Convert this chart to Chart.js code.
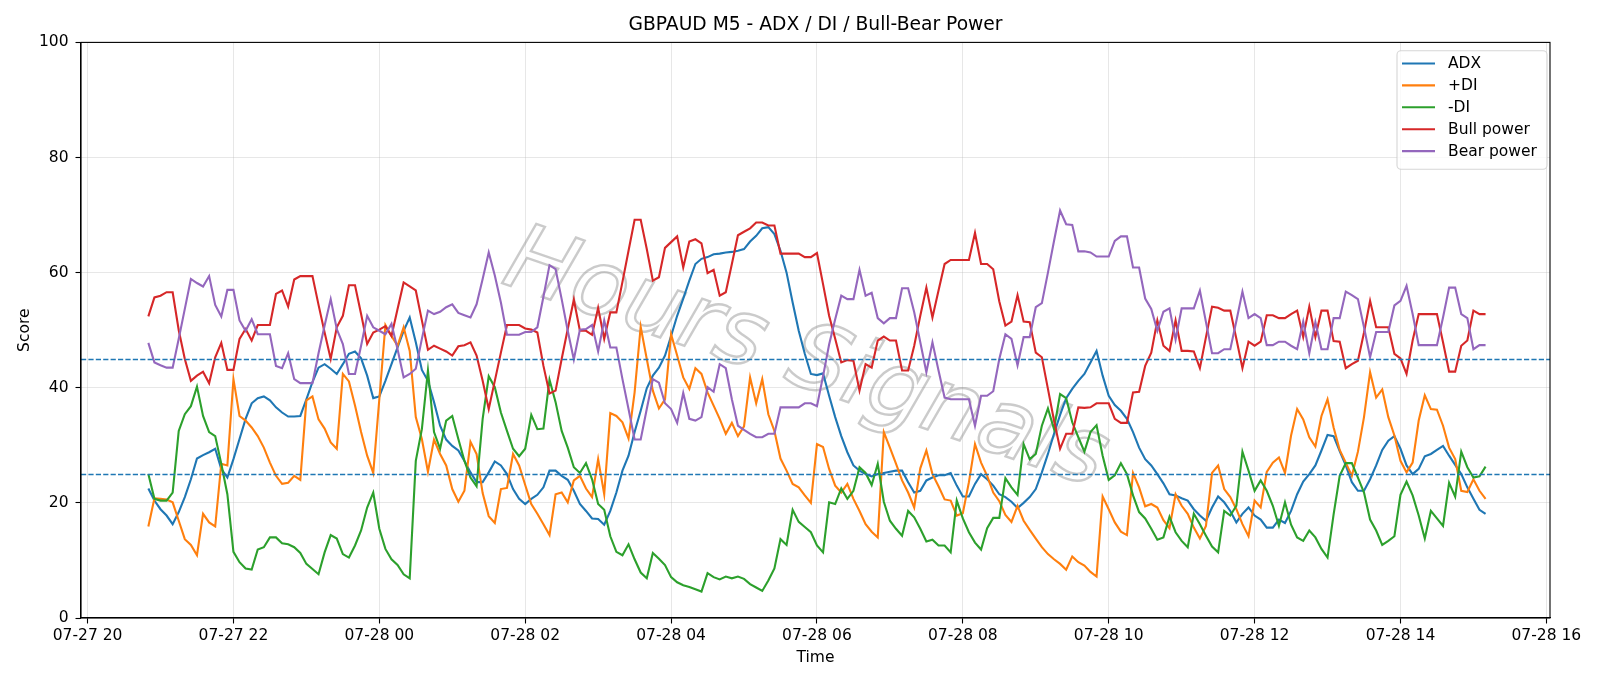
<!DOCTYPE html>
<html>
<head>
<meta charset="utf-8">
<script src="https://cdn.jsdelivr.net/npm/chart.js@4.4.1/dist/chart.umd.min.js"></script>
<style>
  html, body { margin: 0; padding: 0; background: #fff; }
  #wrap { width: 1600px; height: 686px; }
</style>
</head>
<body>
<div id="wrap"><canvas id="chart" width="1600" height="686"></canvas></div>
<script>
'use strict';

// === Datos (M5, 07-27 20:50 -> 07-28 15:10) ===
const START_H = 50 / 60;   // horas desde 07-27 20:00
const STEP_H  = 5 / 60;

const adx = [
  22.5,20.4,18.9,17.8,16.3,18.4,21.0,24.1,27.7,28.3,
  28.8,29.4,25.9,24.4,27.6,31.1,34.6,37.3,38.2,38.5,
  37.8,36.6,35.7,35.0,35.0,35.1,38.0,41.0,43.5,44.1,
  43.3,42.4,44.1,45.9,46.3,45.1,42.1,38.2,38.5,41.2,
  44.1,47.0,49.9,52.2,47.9,43.1,41.2,37.5,33.4,31.0,
  29.9,29.1,27.3,25.3,23.6,23.6,25.3,27.2,26.5,25.0,
  22.4,20.7,19.8,20.7,21.4,22.7,25.6,25.6,24.7,24.0,
  22.1,19.8,18.6,17.3,17.2,16.2,18.6,21.8,25.6,28.2,
  32.3,36.0,39.9,42.1,43.5,45.6,49.0,52.5,55.5,58.6,
  61.5,62.4,62.7,63.2,63.3,63.5,63.6,63.8,64.1,65.4,
  66.4,67.7,67.9,66.7,63.8,60.0,54.8,49.9,45.9,42.4,
  42.2,42.5,38.6,34.9,31.6,28.8,26.5,25.6,25.0,24.6,
  25.0,25.2,25.4,25.6,25.6,23.6,21.8,22.1,23.9,24.4,
  24.8,24.8,25.2,23.0,21.1,21.1,23.3,25.0,24.1,23.0,
  21.5,21.0,20.2,19.1,20.0,21.0,22.4,25.3,28.5,32.0,
  35.3,38.2,39.8,41.2,42.4,44.4,46.4,42.1,38.6,37.0,
  36.0,34.6,32.3,29.6,27.6,26.5,25.0,23.4,21.5,21.3,
  20.8,20.4,18.9,17.8,16.9,19.2,21.1,20.1,18.6,16.6,
  18.1,19.2,17.8,17.1,15.7,15.7,17.1,16.5,18.6,21.5,
  23.7,25.0,26.5,29.1,31.8,31.6,29.0,26.5,23.6,22.1,
  22.1,24.1,26.5,29.2,30.8,31.6,29.4,26.5,25.0,25.9,
  28.1,28.5,29.2,29.9,28.2,26.6,25.0,22.7,20.7,18.8,
  18.1
];
const plusDI = [
  15.9,20.8,20.7,20.6,20.1,16.9,13.7,12.7,10.9,18.1,
  16.6,15.9,26.8,26.5,41.5,35.1,34.3,33.1,31.6,29.6,
  27.0,24.7,23.3,23.5,24.7,24.0,37.8,38.5,34.5,32.9,
  30.5,29.4,42.4,41.1,36.9,32.3,28.2,25.2,38.0,50.9,
  49.0,47.3,50.5,46.4,34.9,31.1,25.4,31.0,28.5,26.5,
  22.4,20.2,22.1,30.6,28.5,21.7,17.7,16.5,22.4,22.6,
  28.5,26.5,23.1,19.8,18.1,16.3,14.4,21.5,21.8,20.1,
  23.9,24.7,22.5,21.0,27.6,21.5,35.6,35.1,34.0,31.2,
  39.2,50.6,45.0,39.5,36.4,38.0,49.3,45.6,41.8,39.8,
  43.4,42.4,39.2,36.9,34.6,32.0,33.9,31.6,33.3,41.8,
  37.3,41.5,35.4,32.5,27.7,25.6,23.3,22.7,21.3,20.0,
  30.2,29.7,25.9,23.0,21.8,23.3,20.7,18.6,16.3,15.0,
  14.0,32.3,29.6,26.8,23.9,21.8,19.2,26.0,29.1,25.0,
  22.9,20.6,20.4,17.8,18.2,23.6,30.2,27.0,24.7,21.8,
  20.3,17.9,16.7,19.5,16.9,15.3,13.8,12.3,11.1,10.2,
  9.4,8.4,10.7,9.7,9.1,8.0,7.2,21.1,18.9,16.6,
  15.0,14.4,25.2,22.7,19.4,19.8,19.2,17.0,15.6,21.5,
  19.5,18.1,15.7,13.8,16.0,25.2,26.5,22.4,21.0,18.9,
  16.3,14.2,20.4,19.2,25.4,27.0,27.9,25.2,31.7,36.3,
  34.5,31.4,29.8,35.1,38.0,33.1,29.2,27.0,24.7,28.9,
  34.9,42.7,38.3,39.7,34.9,31.7,27.3,25.3,27.0,34.3,
  38.7,36.3,36.2,33.4,29.6,27.6,22.1,21.9,24.1,22.1,
  20.7
];
const minusDI = [
  25.0,20.7,20.4,20.4,21.8,32.5,35.4,36.8,40.2,35.1,
  32.3,31.6,26.8,21.5,11.5,9.7,8.6,8.4,11.9,12.3,
  14.0,14.0,13.0,12.8,12.3,11.3,9.4,8.5,7.6,11.4,
  14.4,13.8,11.1,10.5,12.6,15.2,19.2,21.8,15.5,12.0,
  10.2,9.2,7.6,6.9,27.3,32.8,43.0,32.3,29.4,34.3,
  35.1,31.1,27.3,24.4,22.9,34.6,42.0,40.1,35.7,32.5,
  29.4,28.1,29.4,35.3,32.8,32.9,41.4,37.5,32.5,29.6,
  26.2,25.2,26.9,24.1,19.8,18.8,14.2,11.5,10.9,12.8,
  10.2,7.9,6.9,11.3,10.3,9.2,7.1,6.2,5.7,5.4,
  5.0,4.6,7.8,7.1,6.7,7.2,6.9,7.2,6.8,5.9,
  5.3,4.7,6.5,8.6,13.7,12.7,18.8,16.7,15.8,14.9,
  12.6,11.4,20.1,19.8,22.5,20.7,22.1,26.2,25.2,23.1,
  26.8,20.2,16.9,15.5,14.3,18.6,17.5,15.5,13.3,13.6,
  12.6,12.6,11.4,20.4,17.3,14.9,13.1,11.9,15.6,17.4,
  17.4,24.3,22.7,21.4,30.2,27.6,28.5,33.4,36.4,32.8,
  38.9,38.2,34.0,31.4,28.9,32.3,33.5,28.2,24.0,24.8,
  26.9,25.0,21.3,18.4,17.3,15.5,13.6,14.0,17.6,14.9,
  13.4,12.3,18.1,16.3,14.3,12.4,11.4,18.6,17.8,19.5,
  28.9,25.6,22.1,23.9,22.1,19.5,16.0,20.1,16.2,14.0,
  13.4,15.2,14.0,12.0,10.5,18.0,24.7,26.9,26.9,24.4,
  21.8,17.1,15.2,12.7,13.4,14.2,21.4,23.7,21.3,17.8,
  13.8,18.6,17.3,16.0,23.5,21.1,28.9,26.2,24.4,24.6,
  26.3
];
const bullPower = [
  52.4,55.7,56.0,56.6,56.6,50.0,45.0,41.2,42.1,42.8,
  40.8,45.3,47.8,43.1,43.1,48.5,50.2,48.2,50.9,50.9,
  50.9,56.3,56.9,54.1,58.8,59.4,59.4,59.4,54.4,49.6,
  45.0,50.5,52.5,57.8,57.8,52.8,47.6,49.6,50.1,50.7,
  49.0,53.7,58.3,57.6,56.9,51.7,46.6,47.3,46.8,46.3,
  45.6,47.2,47.4,47.9,45.6,41.2,36.3,41.2,46.1,50.9,
  50.9,50.9,50.3,50.1,49.6,43.8,39.0,39.5,45.0,50.2,
  55.3,49.9,49.9,49.2,53.9,48.5,53.1,53.1,58.4,63.8,
  69.2,69.2,64.1,58.6,59.2,64.3,65.3,66.3,60.9,65.4,
  65.8,65.1,59.9,60.5,56.0,56.6,61.5,66.5,67.1,67.7,
  68.7,68.7,68.2,68.2,63.3,63.3,63.3,63.3,62.7,62.7,
  63.4,58.0,52.5,48.5,44.4,44.8,44.7,39.5,44.1,43.5,
  48.2,48.9,48.2,48.2,43.0,43.0,47.3,52.5,57.4,52.2,
  56.9,61.5,62.2,62.2,62.2,62.2,66.9,61.5,61.5,60.6,
  55.0,50.8,51.5,56.1,51.5,51.4,46.1,45.3,39.8,34.3,
  29.4,32.0,32.0,36.6,36.5,36.6,37.3,37.3,37.3,34.6,
  33.9,33.9,39.2,39.3,43.8,46.1,51.7,47.3,46.4,51.7,
  46.4,46.4,46.3,43.4,48.8,54.1,53.9,53.4,53.4,48.5,
  43.4,48.0,47.3,48.0,52.6,52.6,52.1,52.1,52.8,53.4,
  48.8,54.1,48.8,53.4,53.4,48.1,48.0,43.4,44.1,44.7,
  49.6,55.1,50.5,50.5,50.5,45.9,45.1,42.4,48.2,52.8,
  52.8,52.8,52.8,47.9,42.8,42.8,47.3,48.2,53.4,52.8,
  52.8
];
const bearPower = [
  47.8,44.4,43.9,43.5,43.5,48.5,53.7,58.9,58.2,57.6,
  59.4,54.4,52.4,57.0,57.0,51.7,49.9,51.9,49.3,49.3,
  49.3,43.8,43.4,46.0,41.5,40.8,40.8,40.8,46.0,50.8,
  55.4,50.2,47.6,42.4,42.4,47.3,52.5,50.5,49.9,49.3,
  51.1,46.7,41.8,42.4,43.3,48.5,53.4,52.8,53.2,54.0,
  54.5,53.0,52.6,52.2,54.5,58.9,63.5,59.5,54.8,49.2,
  49.2,49.2,49.7,49.7,50.5,55.8,61.3,60.6,55.4,49.9,
  44.9,50.1,50.2,50.9,46.3,51.7,47.0,47.0,41.5,36.3,
  31.0,31.0,36.3,41.5,40.9,37.3,36.3,33.9,39.1,34.6,
  34.3,34.9,40.1,39.3,44.1,43.4,38.0,33.4,32.7,32.0,
  31.4,31.4,32.0,32.0,36.6,36.6,36.6,36.6,37.3,37.3,
  36.8,42.0,47.5,51.9,56.0,55.4,55.4,60.5,56.0,56.5,
  52.1,51.2,52.1,52.1,57.3,57.3,53.1,47.9,42.7,47.9,
  43.0,38.3,38.0,38.0,38.0,38.0,33.4,38.6,38.6,39.4,
  45.0,49.3,48.5,43.9,48.8,48.8,54.0,54.7,60.0,65.5,
  70.8,68.4,68.3,63.7,63.7,63.5,62.8,62.8,62.8,65.5,
  66.3,66.3,60.9,60.9,55.5,53.7,49.9,53.2,53.8,48.4,
  53.8,53.8,53.8,56.9,51.4,46.0,46.0,46.7,46.7,51.6,
  56.7,52.1,52.8,52.1,47.4,47.4,48.0,48.0,47.3,46.7,
  51.5,46.0,51.4,46.7,46.7,52.1,52.1,56.7,56.1,55.4,
  50.5,45.3,49.7,49.7,49.7,54.3,55.1,57.7,52.8,47.4,
  47.4,47.4,47.4,52.2,57.4,57.4,52.8,52.1,46.7,47.4,
  47.4
];

const xTickHours  = [0, 2, 4, 6, 8, 10, 12, 14, 16, 18, 20];
const xTickLabels = ['07-27 20','07-27 22','07-28 00','07-28 02','07-28 04','07-28 06',
                     '07-28 08','07-28 10','07-28 12','07-28 14','07-28 16'];
const yTicks = [0, 20, 40, 60, 80, 100];
const levels = [45, 25];

const seriesNames  = ['ADX', '+DI', '-DI', 'Bull power', 'Bear power'];
const seriesColors = ['#1f77b4', '#ff7f0e', '#2ca02c', '#d62728', '#9467bd'];
const seriesData   = [adx, plusDI, minusDI, bullPower, bearPower];

const times = adx.map((_, i) => START_H + i * STEP_H);

// === Estilo ===
const FONT = "'DejaVu Sans', 'Liberation Sans', sans-serif";
const FS = 15.5;
const WATERMARK = 'Hours Signals';

const datasets = seriesData.map((arr, k) => ({
  label: seriesNames[k],
  data: arr.map((v, i) => ({ x: times[i], y: v })),
  borderColor: seriesColors[k],
  backgroundColor: seriesColors[k],
  borderWidth: 2.1,
  pointRadius: 0,
  tension: 0,
  fill: false,
  order: seriesData.length - 1 - k
}));

// Texto, marco, niveles, marca de agua y leyenda al estilo matplotlib
const decorPlugin = {
  id: 'decor',
  beforeDatasetsDraw(chart) {
    const { ctx } = chart;
    ctx.save();
    ctx.translate(805, 362);
    ctx.rotate(19 * Math.PI / 180);
    ctx.font = `italic 92px ${FONT}`;
    ctx.textAlign = 'center';
    ctx.textBaseline = 'middle';
    ctx.strokeStyle = 'rgba(140,140,140,0.45)';
    ctx.lineWidth = 2.4;
    ctx.strokeText(WATERMARK, 0, 0);
    ctx.restore();
  },
  afterDatasetsDraw(chart) {
    const { ctx, chartArea: a, scales: { y } } = chart;
    ctx.save();
    ctx.beginPath();
    ctx.rect(a.left, a.top, a.right - a.left, a.bottom - a.top);
    ctx.clip();
    ctx.strokeStyle = '#1f77b4';
    ctx.lineWidth = 1.4;
    ctx.setLineDash([5.2, 2.2]);
    levels.forEach(lv => {
      const py = Math.round(y.getPixelForValue(lv)) + 0.5;
      ctx.beginPath();
      ctx.moveTo(a.left, py);
      ctx.lineTo(a.right, py);
      ctx.stroke();
    });
    ctx.restore();
  },
  afterDraw(chart) {
    const { ctx, chartArea: a } = chart;
    ctx.save();
    // marco
    ctx.strokeStyle = '#000';
    ctx.lineWidth = 1.1;
    ctx.strokeRect(a.left, a.top, a.right - a.left, a.bottom - a.top);

    // titulo y ejes
    ctx.fillStyle = '#000';
    ctx.textAlign = 'center';
    ctx.textBaseline = 'middle';
    ctx.font = `18.7px ${FONT}`;
    ctx.fillText('GBPAUD M5 - ADX / DI / Bull-Bear Power', (a.left + a.right) / 2, 25.5);
    ctx.font = `${FS}px ${FONT}`;
    ctx.fillText('Time', (a.left + a.right) / 2, 657.5);
    ctx.translate(24.5, (a.top + a.bottom) / 2);
    ctx.rotate(-Math.PI / 2);
    ctx.fillText('Score', 0, 0);
    ctx.setTransform(1, 0, 0, 1, 0, 0);

    // leyenda
    const bx = 1397, by = 50.7, bw = 150, bh = 118.6, r = 4;
    ctx.beginPath();
    ctx.moveTo(bx + r, by);
    ctx.arcTo(bx + bw, by, bx + bw, by + bh, r);
    ctx.arcTo(bx + bw, by + bh, bx, by + bh, r);
    ctx.arcTo(bx, by + bh, bx, by, r);
    ctx.arcTo(bx, by, bx + bw, by, r);
    ctx.closePath();
    ctx.fillStyle = 'rgba(255,255,255,0.8)';
    ctx.fill();
    ctx.strokeStyle = 'rgba(204,204,204,0.8)';
    ctx.lineWidth = 1.1;
    ctx.stroke();
    ctx.textAlign = 'left';
    ctx.font = `${FS}px ${FONT}`;
    seriesNames.forEach((name, k) => {
      const ly = 63.5 + k * 21.9;
      ctx.strokeStyle = seriesColors[k];
      ctx.lineWidth = 2.1;
      ctx.beginPath();
      ctx.moveTo(1402, ly);
      ctx.lineTo(1435, ly);
      ctx.stroke();
      ctx.fillStyle = '#000';
      ctx.fillText(name, 1448, ly + 0.5);
    });
    ctx.restore();
  }
};

const gridColor = 'rgba(176,176,176,0.3)';

new Chart(document.getElementById('chart'), {
  type: 'line',
  data: { datasets },
  options: {
    responsive: false,
    devicePixelRatio: 1,
    animation: false,
    layout: { padding: { left: 0, right: 50, top: 42.4, bottom: 0 } },
    plugins: { legend: { display: false }, tooltip: { enabled: false }, title: { display: false } },
    scales: {
      x: {
        type: 'linear',
        min: -0.09,
        max: 20.05,
        afterBuildTicks: s => { s.ticks = xTickHours.map(v => ({ value: v })); },
        afterFit: s => { s.height = 68; },
        ticks: {
          callback: (v, i) => xTickLabels[i],
          color: '#000',
          font: { family: FONT, size: FS },
          padding: 3,
          maxRotation: 0,
          autoSkip: false
        },
        grid: { color: gridColor, lineWidth: 1, tickColor: '#000', tickLength: 5.5, tickWidth: 1.1 },
        border: { display: true, color: '#000', width: 1.1 }
      },
      y: {
        min: 0,
        max: 100,
        afterBuildTicks: s => { s.ticks = yTicks.map(v => ({ value: v })); },
        afterFit: s => { s.width = 81; },
        ticks: {
          color: '#000',
          font: { family: FONT, size: FS },
          padding: 7
        },
        grid: { color: gridColor, lineWidth: 1, tickColor: '#000', tickLength: 5.5, tickWidth: 1.1 },
        border: { display: true, color: '#000', width: 1.1 }
      }
    }
  },
  plugins: [decorPlugin]
});
</script>
</body>
</html>
